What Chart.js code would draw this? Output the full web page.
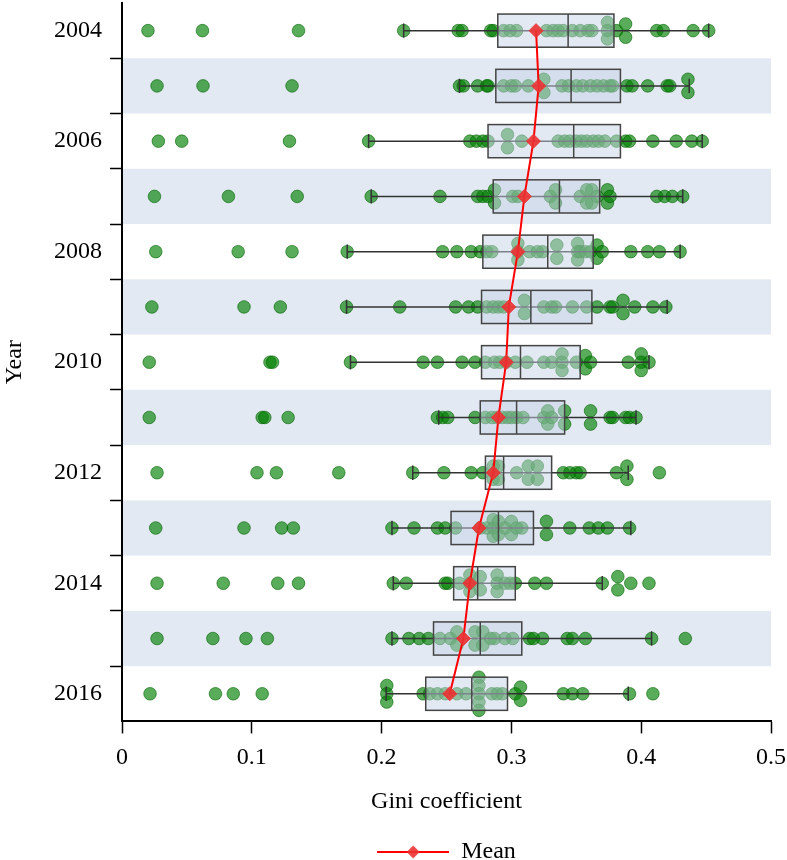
<!DOCTYPE html>
<html>
<head>
<meta charset="utf-8">
<script src="https://cdn.jsdelivr.net/npm/chart.js@4/dist/chart.umd.min.js"></script>
<style>
  html, body { margin: 0; padding: 0; background: #fff; }
</style>
</head>
<body>
<canvas id="chart" width="787" height="860"></canvas>
<script>
// Gini coefficient by year: box stats, mean and the individual observations
const years = [2004, 2005, 2006, 2007, 2008, 2009, 2010, 2011, 2012, 2013, 2014, 2015, 2016];
const means = [0.319, 0.321, 0.317, 0.310, 0.305, 0.298, 0.296, 0.290, 0.286, 0.275, 0.268, 0.263, 0.2525];
const q1s = [0.2895, 0.288, 0.282, 0.286, 0.278, 0.277, 0.277, 0.276, 0.280, 0.2535, 0.2555, 0.240, 0.234];
const medians = [0.3437, 0.346, 0.348, 0.337, 0.328, 0.315, 0.307, 0.304, 0.294, 0.290, 0.274, 0.276, 0.2695];
const q3s = [0.379, 0.384, 0.384, 0.368, 0.363, 0.362, 0.353, 0.341, 0.331, 0.317, 0.303, 0.308, 0.297];
const whiskerLow = [0.217, 0.260, 0.190, 0.192, 0.1735, 0.173, 0.176, 0.244, 0.224, 0.208, 0.209, 0.208, 0.2035];
const whiskerHigh = [0.452, 0.437, 0.447, 0.432, 0.430, 0.420, 0.406, 0.396, 0.390, 0.392, 0.370, 0.408, 0.390];
const giniByYear = [
  [0.020, 0.062, 0.136, 0.217, 0.259, 0.262, 0.284, 0.286, 0.294, 0.299, 0.304, 0.327, 0.332, 0.336, 0.340, 0.347, 0.353, 0.359, 0.362, 0.374, 0.374, 0.374, 0.381, 0.388, 0.388, 0.412, 0.417, 0.440, 0.452],
  [0.027, 0.0624, 0.131, 0.260, 0.263, 0.274, 0.281, 0.282, 0.294, 0.300, 0.303, 0.313, 0.325, 0.325, 0.339, 0.344, 0.350, 0.355, 0.361, 0.366, 0.371, 0.376, 0.378, 0.389, 0.393, 0.405, 0.420, 0.422, 0.436, 0.436],
  [0.028, 0.046, 0.129, 0.190, 0.268, 0.273, 0.278, 0.282, 0.297, 0.297, 0.308, 0.336, 0.341, 0.345, 0.350, 0.354, 0.358, 0.363, 0.367, 0.372, 0.381, 0.388, 0.391, 0.409, 0.427, 0.439, 0.447],
  [0.025, 0.082, 0.135, 0.192, 0.245, 0.274, 0.278, 0.282, 0.287, 0.287, 0.301, 0.305, 0.330, 0.334, 0.334, 0.353, 0.358, 0.358, 0.362, 0.362, 0.366, 0.374, 0.374, 0.376, 0.412, 0.418, 0.424, 0.432],
  [0.026, 0.0895, 0.131, 0.1735, 0.247, 0.258, 0.269, 0.276, 0.281, 0.285, 0.305, 0.305, 0.305, 0.314, 0.320, 0.324, 0.335, 0.335, 0.351, 0.351, 0.351, 0.353, 0.357, 0.361, 0.366, 0.366, 0.370, 0.392, 0.405, 0.414, 0.430],
  [0.023, 0.094, 0.122, 0.173, 0.214, 0.257, 0.267, 0.274, 0.281, 0.286, 0.290, 0.294, 0.310, 0.310, 0.325, 0.331, 0.334, 0.347, 0.358, 0.366, 0.376, 0.378, 0.386, 0.386, 0.395, 0.409, 0.419],
  [0.021, 0.114, 0.116, 0.176, 0.232, 0.243, 0.262, 0.272, 0.280, 0.287, 0.291, 0.296, 0.303, 0.312, 0.325, 0.331, 0.339, 0.339, 0.339, 0.350, 0.357, 0.357, 0.361, 0.390, 0.400, 0.400, 0.400, 0.406],
  [0.021, 0.108, 0.110, 0.128, 0.243, 0.247, 0.251, 0.272, 0.280, 0.285, 0.289, 0.293, 0.297, 0.300, 0.304, 0.309, 0.325, 0.328, 0.328, 0.331, 0.341, 0.341, 0.361, 0.361, 0.376, 0.378, 0.388, 0.391, 0.396],
  [0.027, 0.104, 0.119, 0.167, 0.224, 0.248, 0.269, 0.278, 0.286, 0.286, 0.290, 0.290, 0.304, 0.313, 0.313, 0.320, 0.320, 0.340, 0.345, 0.350, 0.353, 0.381, 0.389, 0.389, 0.414],
  [0.026, 0.094, 0.123, 0.132, 0.208, 0.225, 0.243, 0.249, 0.257, 0.276, 0.281, 0.286, 0.286, 0.286, 0.290, 0.290, 0.295, 0.300, 0.300, 0.304, 0.308, 0.327, 0.327, 0.345, 0.360, 0.367, 0.374, 0.391],
  [0.027, 0.078, 0.120, 0.136, 0.209, 0.219, 0.249, 0.251, 0.260, 0.268, 0.268, 0.268, 0.276, 0.276, 0.289, 0.289, 0.289, 0.295, 0.299, 0.303, 0.318, 0.327, 0.370, 0.382, 0.382, 0.392, 0.406],
  [0.027, 0.070, 0.0955, 0.112, 0.208, 0.221, 0.229, 0.236, 0.245, 0.253, 0.258, 0.258, 0.272, 0.272, 0.278, 0.278, 0.284, 0.287, 0.295, 0.301, 0.314, 0.317, 0.324, 0.343, 0.347, 0.357, 0.408, 0.434],
  [0.0216, 0.072, 0.0857, 0.108, 0.204, 0.204, 0.204, 0.232, 0.237, 0.243, 0.249, 0.258, 0.265, 0.275, 0.275, 0.275, 0.275, 0.275, 0.285, 0.289, 0.293, 0.303, 0.307, 0.307, 0.340, 0.347, 0.355, 0.391, 0.409]
];
const xTicks = [0, 0.1, 0.2, 0.3, 0.4, 0.5];

const FONT = "'Liberation Serif', 'Times New Roman', serif";
const BAND_COLOR = '#e3e9f2';
const BOX_HALF = 0.3;     // box half height in category units
const CAP_HALF = 0.13;    // whisker cap half height

// stack repeated values vertically, centred on the year line
function swarm(values, idx) {
  const counts = {};
  values.forEach(v => counts[v] = (counts[v] || 0) + 1);
  const seen = {};
  return values.map(v => {
    const n = counts[v];
    const k = seen[v] = (seen[v] === undefined ? 0 : seen[v] + 1);
    const step = n === 2 ? 0.24 : 0.15;
    return { x: v, y: idx + (k - (n - 1) / 2) * step };
  });
}

const pointData = [];
giniByYear.forEach((vals, i) => pointData.push(...swarm(vals, i)));

// legend icon: red line with a diamond
const legendIcon = document.createElement('canvas');
legendIcon.width = 72; legendIcon.height = 16;
(function () {
  const c = legendIcon.getContext('2d');
  c.strokeStyle = '#ff0000'; c.lineWidth = 2;
  c.beginPath(); c.moveTo(0, 8); c.lineTo(72, 8); c.stroke();
  c.fillStyle = 'rgba(235,50,50,0.9)';
  c.beginPath(); c.moveTo(36, 1.5); c.lineTo(42.5, 8); c.lineTo(36, 14.5); c.lineTo(29.5, 8); c.closePath(); c.fill();
})();

const boxPlugin = {
  id: 'boxPlot',
  beforeDraw(chart) {
    const {ctx, chartArea, scales: {y}} = chart;
    ctx.save();
    ctx.fillStyle = BAND_COLOR;
    years.forEach((yr, i) => {
      if (i % 2 !== 1) return;
      const a = y.getPixelForValue(i - 0.5), b = y.getPixelForValue(i + 0.5);
      ctx.fillRect(chartArea.left, Math.min(a, b), chartArea.right - chartArea.left, Math.abs(b - a));
    });
    ctx.restore();
  },
  afterDatasetDraw(chart, args) {
    if (args.index !== 1) return;
    const {ctx, scales: {x, y}} = chart;
    ctx.save();
    years.forEach((yr, i) => {
      const yc = y.getPixelForValue(i);
      const yt = y.getPixelForValue(i - BOX_HALF), yb = y.getPixelForValue(i + BOX_HALF);
      const ct = y.getPixelForValue(i - CAP_HALF), cb = y.getPixelForValue(i + CAP_HALF);
      const xl = x.getPixelForValue(whiskerLow[i]), xh = x.getPixelForValue(whiskerHigh[i]);
      const x1 = x.getPixelForValue(q1s[i]), x3 = x.getPixelForValue(q3s[i]), xm = x.getPixelForValue(medians[i]);
      // whiskers and caps
      ctx.strokeStyle = '#333';
      ctx.lineWidth = 1.5;
      ctx.beginPath();
      ctx.moveTo(xl, yc); ctx.lineTo(xh, yc);
      ctx.moveTo(xl, ct); ctx.lineTo(xl, cb);
      ctx.moveTo(xh, ct); ctx.lineTo(xh, cb);
      ctx.stroke();
      // box
      ctx.fillStyle = 'rgba(200,212,230,0.5)';
      ctx.fillRect(x1, yt, x3 - x1, yb - yt);
      ctx.strokeStyle = '#444';
      ctx.strokeRect(x1, yt, x3 - x1, yb - yt);
      ctx.beginPath();
      ctx.moveTo(xm, yt); ctx.lineTo(xm, yb);
      ctx.stroke();
    });
    ctx.restore();
  }
};

new Chart(document.getElementById('chart'), {
  type: 'scatter',
  data: {
    datasets: [
      {
        label: 'Mean',
        data: means.map((m, i) => ({ x: m, y: i })),
        showLine: true,
        borderColor: '#ff0000',
        borderWidth: 2,
        pointStyle: 'rectRot',
        pointRadius: 7,
        pointBackgroundColor: 'rgba(235,50,50,0.9)',
        pointBorderColor: 'rgba(235,50,50,0.9)',
        pointBorderWidth: 1
      },
      {
        label: 'Observations',
        data: pointData,
        pointRadius: 6.3,
        backgroundColor: 'rgba(0,128,0,0.65)',
        borderColor: 'rgba(0,100,0,0.6)',
        borderWidth: 1
      }
    ]
  },
  options: {
    responsive: false,
    animation: false,
    layout: { autoPadding: false, padding: { top: 3, right: 16, left: 0, bottom: -14 } },
    plugins: {
      tooltip: { enabled: false },
      legend: {
        position: 'bottom',
        fullSize: false,
        labels: {
          color: '#000',
          font: { family: FONT, size: 24 },
          usePointStyle: true,
          pointStyleWidth: 72,
          generateLabels: () => [{ text: 'Mean', pointStyle: legendIcon, datasetIndex: 0, lineWidth: 0, fontColor: '#000' }]
        }
      }
    },
    scales: {
      x: {
        type: 'linear',
        min: 0,
        max: 0.5,
        afterBuildTicks: s => { s.ticks = xTicks.map(v => ({ value: v })); },
        afterFit: s => { s.height += 5; s.paddingLeft = 0; s.paddingRight = 0; },
        ticks: { color: '#000', font: { family: FONT, size: 24 }, padding: 10, callback: v => String(+v.toFixed(1)) },
        grid: { drawOnChartArea: false, tickLength: 12, tickColor: '#000', tickWidth: 1.5 },
        border: { color: '#000', width: 2 },
        title: { display: true, text: 'Gini coefficient', color: '#000', font: { family: FONT, size: 24 }, padding: { top: 0, bottom: 14 } }
      },
      y: {
        type: 'linear',
        reverse: true,
        min: -0.5,
        max: 12.5,
        afterBuildTicks: s => {
          const t = [];
          for (let v = -0.5; v <= 12.5; v += 0.5) t.push({ value: v });
          s.ticks = t;
        },
        afterFit: s => { s.width = 122; s.paddingTop = 0; s.paddingBottom = 0; },
        ticks: {
          color: '#000',
          font: { family: FONT, size: 24 },
          padding: 8,
          autoSkip: false,
          callback: v => (Number.isInteger(v) && v % 2 === 0) ? String(years[v]) : ''
        },
        grid: {
          drawOnChartArea: false,
          tickLength: 12,
          tickWidth: 1.5,
          tickColor: c => (c.tick && !Number.isInteger(c.tick.value) && c.tick.value > -0.5 && c.tick.value < 12.5) ? '#000' : 'rgba(0,0,0,0)'
        },
        border: { color: '#000', width: 2 },
        title: { display: true, text: 'Year', color: '#000', font: { family: FONT, size: 24 }, padding: 0 }
      }
    }
  },
  plugins: [boxPlugin]
});
</script>
</body>
</html>
